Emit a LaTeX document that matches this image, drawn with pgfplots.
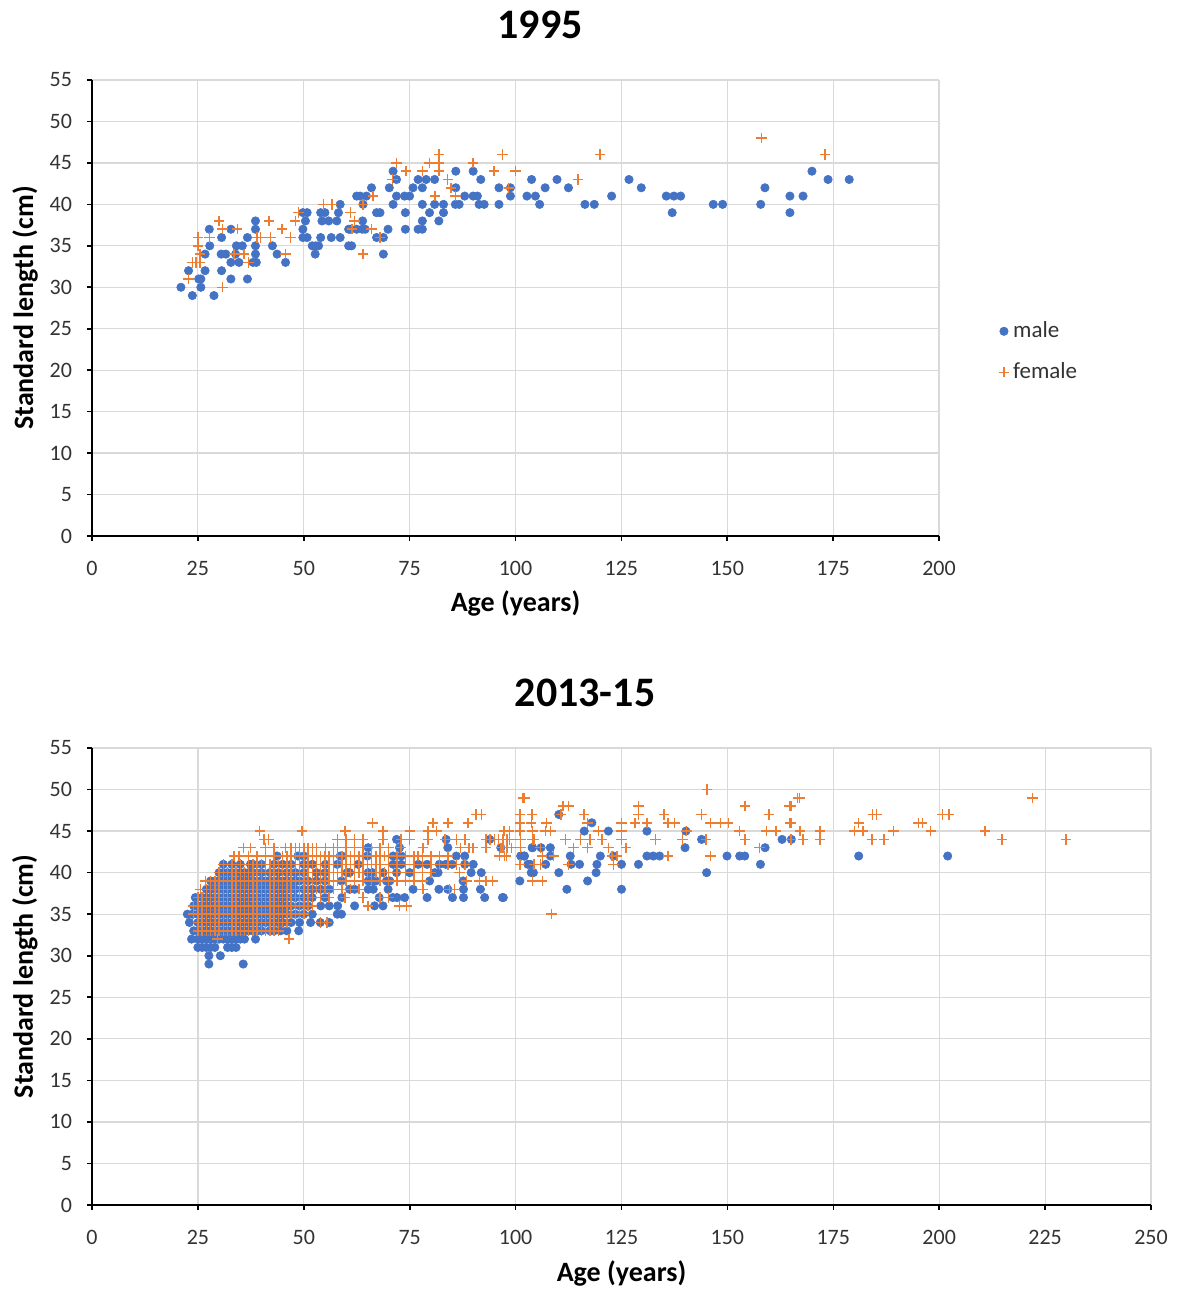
\documentclass[border=0pt]{standalone}
\usepackage{fontspec}
\setmainfont{Carlito}
\usepackage{pgfplots}
\pgfplotsset{compat=1.18}
\definecolor{mblue}{HTML}{4472C4}
\definecolor{forange}{HTML}{ED7D31}
\definecolor{gridc}{HTML}{D9D9D9}
\pgfplotsset{
 mystyle/.style={
  scale only axis,
  axis x line*=bottom, axis y line*=left,
  xmajorgrids, ymajorgrids,
  grid style={gridc, line width=0.6pt},
  axis line style={black, line width=0.8pt, -},
  tick align=outside,
  major tick length=2.5pt,
  tick style={black, line width=0.8pt},
  ymin=0, ymax=55, ytick={0,5,...,55},
  ticklabel style={font=\fontsize{11}{13}\selectfont, text=black!80},
  yticklabel style={xshift=-4pt},
  xticklabel style={yshift=-6.5pt},
  /pgf/number format/assume math mode=true,
  label style={font=\bfseries\fontsize{14}{16}\selectfont},
  xlabel={Age (years)}, ylabel={Standard length (cm)},
  xlabel style={at={(axis description cs:0.5,-0.149)}, anchor=center},
 },
 male/.style={only marks, mark=*, mark size=2.1pt, mark options={fill=mblue, draw=mblue, line width=0.3pt}},
 female/.style={only marks, mark=+, mark size=2.6pt, mark options={draw=forange, line width=0.75pt}},
}
\begin{document}
\begin{tikzpicture}
\useasboundingbox (0,0) rectangle (589pt,645.5pt);
\node[font=\bfseries\fontsize{21}{25}\selectfont] at (270pt,633pt) {1995};
\node[font=\bfseries\fontsize{21}{25}\selectfont] at (292.5pt,299pt) {2013-15};
\begin{axis}[mystyle,
  at={(46pt,377.5pt)}, anchor=south west,
  width=423.5pt, height=228pt,
  xmin=0, xmax=200, xtick={0,25,...,200},
  ylabel style={at={(axis description cs:-0.079,0.5)}, anchor=center},
  legend style={at={(axis description cs:1.063,0.404)}, anchor=west, draw=none, fill=none,
    font=\fontsize{11.5}{13}\selectfont, text=black!80, row sep=7pt},
  legend cell align=left,
]
\addplot[male] coordinates {
(21,30) (23.7,29) (22.8,32) (25.2,31) (25.7,31) (25.7,30) (28.8,29) (27.7,37) (27.8,35) (26.7,34) (26.7,32) (30.6,36) (30.5,34) (31.6,34) (30.6,32) (32.8,31) (32.8,37) (34.1,35) (35.5,35) (33.9,34) (32.8,33) (34.7,33) (36.7,36) (36.7,31) (38.6,38) (38.6,37) (38.6,35) (38.6,34) (38,33) (38.8,33) (42.6,35) (43.7,34) (45.7,33) (49.8,39) (50.8,39) (50.4,38) (49.8,37) (49.8,36) (50.8,36) (52,35) (52.8,35) (53.5,35) (52.7,34) (54,39) (55,39) (54.3,38) (55.9,38) (54,36) (56.5,36) (58.6,36) (57.8,38) (58.6,40) (58.2,39) (60.6,37) (60.6,35) (62.5,41)
(61.3,35) (61,37) (62.5,37) (63.8,37) (64.5,37) (63.9,38) (63.3,41) (64.8,41) (66,42) (64,40) (67.2,39) (68,39) (67.2,36) (68.8,36) (68.8,34) (69.9,37) (71.1,40) (71.1,44) (71.9,43) (70.2,42) (71.9,41) (73.8,41) (75,41) (74,39) (74,37) (77,37) (78,37) (78,38) (75.8,42) (78,42) (77,43) (78.9,43) (80.9,43) (78,40) (79.7,39) (80.9,40) (81.9,38) (83,39) (83,40) (85.9,44) (85.9,42) (85.8,40) (86.7,40) (88,41) (90,41) (91,41) (90,44) (91.8,43) (91.4,40) (92.6,40) (96.1,42) (96.1,40) (98.8,42) (98.8,41) (102.7,41) (104.7,41) (103.8,43) (105.7,40) (107,42) (109.8,43) (112.5,42) (116.4,40) (118.6,40)
(122.7,41) (126.8,43) (129.7,42) (135.6,41) (137.4,41) (139,41) (137,39) (146.7,40) (148.9,40) (157.9,40) (158.9,42) (164.8,41) (167.9,41) (164.8,39) (170,44) (173.8,43) (178.8,43)
};
\addlegendentry{male}
\addplot[female] coordinates {
(30,38) (25,36) (25,35) (25.5,34) (24.5,33) (25.5,33) (23.7,33) (22.8,31) (30.8,30) (27.7,36) (30.8,37) (34.3,37) (33.5,34) (37,33) (35.9,34) (39,36) (39.8,36) (41.8,38) (44.9,37) (46.9,36) (45.7,34) (42.2,36) (48,38) (48.8,39) (54.7,40) (56.7,40) (61,39) (62,38) (61.4,37)
(64,34) (66.4,41) (64,40) (66,37) (68,36) (71.9,45) (74.2,44) (71,43) (78,44) (79.7,45) (81.9,46) (81.9,45) (81.9,44) (84,43) (84.8,42) (85.8,41) (81,41) (90,45) (94.9,44) (96.9,46) (100,44) (98.4,42) (114.7,43) (119.9,46) (158.1,48) (173.1,46)
};
\addlegendentry{female}
\end{axis}
\begin{axis}[mystyle,
  at={(46pt,43pt)}, anchor=south west,
  width=529.5pt, height=228.5pt,
  xmin=0, xmax=250, xtick={0,25,...,250},
  ylabel style={at={(axis description cs:-0.0633,0.5)}, anchor=center},
]
\addplot[male] coordinates {
(27.6,29) (35.7,29)
(27.6,30) (30.3,30)
(25,31) (26,31) (27,31) (28,31) (29,31) (32,31) (33,31) (34,31)
(23.5,32) (25,32) (26,32) (27,32) (28,32) (29,32) (30,32) (31,32) (32,32) (33,32) (34,32) (35,32) (36,32) (38.6,32)
(24,33) (25,33) (26,33) (27,33) (28,33) (29,33) (30,33) (31,33) (32,33) (33,33) (34,33) (35,33) (36,33) (37,33) (38,33) (39,33) (40,33) (42,33) (43,33) (44.5,33) (46,33) (48.8,33)
(23,34) (25,34) (26,34) (27,34) (28,34) (29,34) (30,34) (31,34) (32,34) (33,34) (34,34) (35,34) (36,34) (37,34) (38,34) (39,34) (40,34) (41,34) (42,34) (43,34) (44,34) (45,34) (47,34) (49,34) (51.6,34) (53.9,34) (56,34)
(22.5,35) (23.7,35) (25,35) (26,35) (27,35) (28,35) (29,35) (30,35) (31,35) (32,35) (33,35) (34,35) (35,35) (36,35) (37,35) (38,35) (39,35) (40,35) (41,35) (42,35) (43,35) (44,35) (45,35) (46,35) (48,35) (50,35) (52,35) (57.9,35) (58.9,35)
(24,36) (25,36) (26,36) (27,36) (28,36) (29,36) (30,36) (31,36) (32,36) (33,36) (34,36) (35,36) (36,36) (37,36) (38,36) (39,36) (40,36) (41,36) (42,36) (43,36) (44,36) (45,36) (46,36) (47,36) (49,36) (51,36) (54,36) (56,36) (58,36) (62,36) (66.7,36) (68.7,36)
(24.4,37) (26,37) (27,37) (28,37) (29,37) (30,37) (31,37) (32,37) (33,37) (34,37) (35,37) (36,37) (37,37) (38,37) (39,37) (40,37) (41,37) (42,37) (43,37) (44,37) (45,37) (46,37) (48,37) (50,37) (52,37) (55,37) (59,37) (67.8,37) (71,37) (72,37) (73.8,37) (79.1,37) (85.1,37) (87.7,37) (92.7,37) (96.9,37) (97.1,37)
(27,38) (28,38) (29,38) (30,38) (31,38) (32,38) (33,38) (34,38) (35,38) (36,38) (37,38) (38,38) (39,38) (40,38) (41,38) (42,38) (43,38) (44,38) (45,38) (46,38) (47,38) (48,38) (50,38) (52,38) (54,38) (56,38) (60.8,38) (62,38) (65.2,38) (66.4,38) (69.9,38) (75.8,38) (81.9,38) (84,38) (87.7,38) (91.7,38) (112.1,38) (125,38)
(28,39) (29,39) (30,39) (31,39) (32,39) (33,39) (34,39) (35,39) (36,39) (37,39) (38,39) (39,39) (40,39) (41,39) (42,39) (43,39) (44,39) (45,39) (46,39) (47,39) (48,39) (49,39) (51,39) (53,39) (55,39) (58.9,39) (65.2,39) (66.2,39) (67,39) (69.5,39) (70.3,39) (79.7,39) (87.6,39) (101,39) (117,39)
(30,40) (31,40) (32,40) (33,40) (34,40) (35,40) (36,40) (37,40) (38,40) (40,40) (42,40) (44,40) (46,40) (48,40) (50,40) (53,40) (55,40) (60.2,40) (60.8,40) (65.2,40) (66.2,40) (68.7,40) (71.9,40) (75,40) (80.9,40) (81.7,40) (89.5,40) (91.9,40) (103.7,40) (104.2,40) (110.2,40) (119,40) (145.1,40)
(31,41) (33,41) (35,41) (37.4,41) (38,41) (40,41) (43,41) (45,41) (47,41) (50,41) (52,41) (55.1,41) (57.9,41) (62.8,41) (71.1,41) (73,41) (77,41) (79.1,41) (82,41) (83.5,41) (85,41) (88,41) (90,41) (102.9,41) (103.4,41) (107.1,41) (113.1,41) (115.1,41) (119.2,41) (125,41) (129,41) (157.8,41)
(43.7,42) (48.6,42) (50,42) (58.6,42) (59,42) (65,42) (71.1,42) (73,42) (86,42) (88,42) (101.3,42) (102,42) (101.2,42) (102.1,42) (108.2,42) (112.9,42) (120,42) (123.1,42) (131,42) (132.5,42) (134,42) (149.9,42) (152.9,42) (154.1,42) (181,42) (202,42)
(65.2,43) (72.6,43) (84,43) (103.9,43) (96.5,43) (104,43) (106,43) (108.2,43) (140,43) (158.9,43)
(71.9,44) (83.6,44) (93.9,44) (143.9,44) (162.9,44) (165.1,44)
(116.2,45) (121.9,45) (131,45) (140.2,45)
(118,46) (110.2,47)
};
\addplot[female] coordinates {
(29.6,32) (46.5,32)
(25,33) (26,33) (27,33) (28,33) (29,33) (30,33) (31,33) (32,33) (33,33) (34,33) (35,33) (36,33) (37,33) (38,33) (39,33) (40,33) (41,33) (42,33) (43,33) (44,33)
(25,34) (26,34) (27,34) (28,34) (29,34) (30,34) (31,34) (32,34) (33,34) (34,34) (35,34) (36,34) (37,34) (38,34) (39,34) (40,34) (41,34) (42,34) (43,34) (44,34) (45,34) (46,34) (53.9,34) (55.5,34)
(24,35) (25,35) (26,35) (27,35) (28,35) (29,35) (30,35) (31,35) (32,35) (33,35) (34,35) (35,35) (36,35) (37,35) (38,35) (39,35) (40,35) (41,35) (42,35) (43,35) (44,35) (45,35) (46,35) (47,35) (48,35) (49,35) (50,35) (108.5,35)
(24,36) (25,36) (26,36) (27,36) (28,36) (29,36) (30,36) (31,36) (32,36) (33,36) (34,36) (35,36) (36,36) (37,36) (38,36) (39,36) (40,36) (41,36) (42,36) (43,36) (44,36) (45,36) (46,36) (47,36) (48,36) (49,36) (50,36) (51,36) (52,36) (65.2,36) (72.6,36) (74.2,36)
(25,37) (26,37) (27,37) (28,37) (29,37) (30,37) (31,37) (32,37) (33,37) (34,37) (35,37) (36,37) (37,37) (38,37) (39,37) (40,37) (41,37) (42,37) (43,37) (44,37) (45,37) (46,37) (47,37) (48,37) (49,37) (50,37) (51,37) (52,37) (54,37) (56,37) (59.7,37) (64,37) (68,37) (70,37)
(25.6,38) (27,38) (28,38) (29,38) (30,38) (31,38) (32,38) (33,38) (34,38) (35,38) (36,38) (37,38) (38,38) (39,38) (40,38) (41,38) (42,38) (43,38) (44,38) (45,38) (46,38) (47,38) (48,38) (49,38) (50,38) (51,38) (52,38) (53,38) (54,38) (55,38) (57,38) (59,38) (61,38) (63,38) (78.1,38) (84.4,38) (85.6,38)
(26.8,39) (28,39) (29,39) (30,39) (31,39) (32,39) (33,39) (34,39) (35,39) (36,39) (37,39) (38,39) (39,39) (40,39) (41,39) (42,39) (43,39) (44,39) (45,39) (46,39) (47,39) (48,39) (49,39) (50,39) (51,39) (52,39) (53,39) (54,39) (55,39) (56,39) (57,39) (58,39) (60,39) (62,39) (64,39) (66,39) (68,39) (70,39) (72,39) (74,39) (76,39) (78,39) (88.4,39) (91.5,39) (93,39) (94.6,39) (104,39) (106.3,39)
(30,40) (31,40) (32,40) (33,40) (34,40) (35,40) (36,40) (37,40) (38,40) (39,40) (40,40) (41,40) (42,40) (43,40) (44,40) (45,40) (46,40) (47,40) (48,40) (49,40) (50,40) (51,40) (52,40) (53,40) (54,40) (55,40) (56,40) (57,40) (58,40) (59,40) (60,40) (61,40) (62,40) (63,40) (64,40) (65,40) (66,40) (67,40) (68,40) (69,40) (70,40) (72,40) (74,40) (76,40) (78,40) (80,40) (86.8,40)
(31,41) (33,41) (35,41) (37,41) (38,41) (39,41) (40,41) (41,41) (42,41) (43,41) (44,41) (45,41) (46,41) (47,41) (48,41) (49,41) (50,41) (51,41) (52,41) (53,41) (54,41) (55,41) (56,41) (57,41) (58,41) (59,41) (60,41) (61,41) (62,41) (63,41) (64,41) (65,41) (66,41) (67,41) (68,41) (70,41) (72,41) (74,41) (76,41) (78,41) (80,41) (82,41) (84,41) (86,41) (88,41) (101,41) (104.3,41) (105.9,41) (112.5,41) (123.1,41)
(33.5,42) (34.7,42) (37,42) (39,42) (41,42) (43,42) (45,42) (46,42) (47,42) (48,42) (49,42) (50,42) (51,42) (52,42) (53,42) (54,42) (55,42) (56,42) (57,42) (58,42) (59,42) (60,42) (61,42) (62,42) (63,42) (64,42) (65,42) (66,42) (67,42) (68,42) (69,42) (70,42) (72,42) (74,42) (76,42) (77,42) (78,42) (80,42) (82,42) (84,42) (96.2,42) (97.8,42) (97.4,42) (106.3,42) (109,42) (122.7,42) (123.9,42) (136,42) (146,42)
(35.8,43) (37.4,43) (41,43) (43,43) (45.7,43) (47,43) (48,43) (49,43) (50,43) (51,43) (52,43) (53,43) (55.1,43) (57,43) (58,43) (60,43) (62,43) (64,43) (66,43) (68,43) (70,43) (73,43) (78.1,43) (87,43) (89,43) (90,43) (93,43) (97,43) (98,43) (99,43) (96.5,43) (101.2,43) (105.9,43) (113.7,43) (117,43) (121.9,43) (126.1,43) (157.6,43)
(40.6,44) (41.7,44) (57.9,44) (60,44) (62,44) (64,44) (68.7,44) (73,44) (75,44) (79.3,44) (83.3,44) (86,44) (88,44) (93,44) (94,44) (95,44) (96,44) (97,44) (98,44) (98.6,44) (104,44) (101.2,44) (104.3,44) (111.8,44) (115.3,44) (117.6,44) (120.4,44) (125,44) (133,44) (139.4,44) (144.9,44) (154.1,44) (165,44) (167.9,44) (171.9,44) (184.1,44) (187,44) (214.8,44) (229.9,44)
(39.6,45) (49.6,45) (59.8,45) (59.7,45) (68.7,45) (75,45) (79.3,45) (81.3,45) (97.3,45) (98.5,45) (101,45) (104,45) (107,45) (108.2,45) (119.6,45) (125,45) (140.4,45) (152.9,45) (159.2,45) (161.5,45) (167.1,45) (171.9,45) (180,45) (182,45) (189.2,45) (198,45) (210.8,45)
(66.2,46) (80.5,46) (84,46) (88.8,46) (101,46) (103.7,46) (107.3,46) (117,46) (125,46) (128.2,46) (131,46) (136,46) (137.5,46) (146,46) (148.4,46) (150.2,46) (164.8,46) (165,46) (181,46) (195.1,46) (196,46)
(90.7,47) (91.9,47) (101,47) (103.9,47) (110.7,47) (116.1,47) (129,47) (135,47) (143.9,47) (159.8,47) (184.3,47) (185.2,47) (200.8,47) (202.3,47)
(111.2,48) (112.5,48) (129,48) (154.1,48) (164.7,48) (165,48)
(101.7,49) (102.1,49) (166.6,49) (167,49) (222,49)
(145.2,50)
};
\end{axis}
\end{tikzpicture}
\end{document}
